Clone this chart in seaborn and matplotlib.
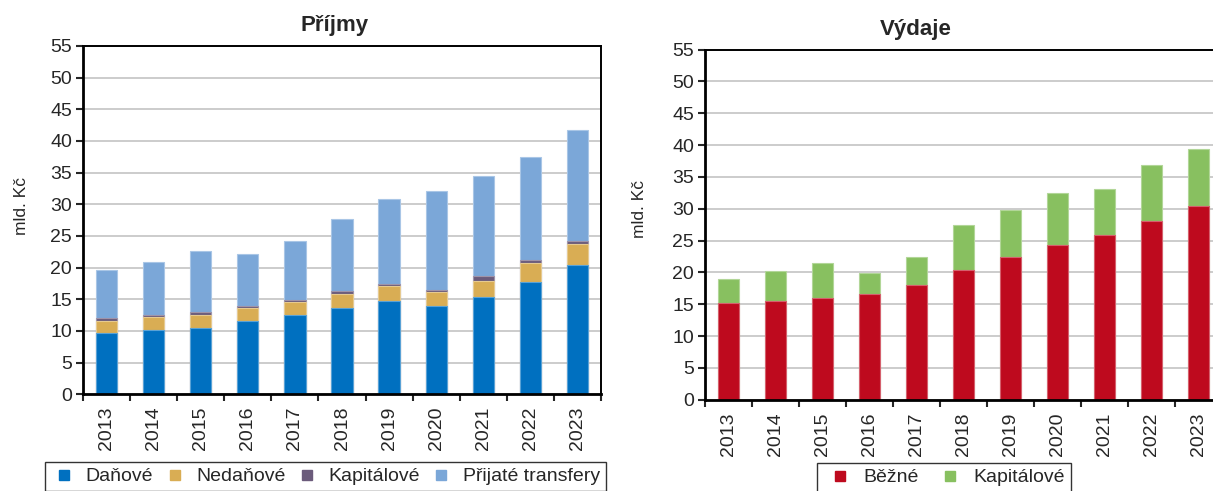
import matplotlib.pyplot as plt
import pandas as pd
import seaborn as sns
from matplotlib.lines import Line2D
from matplotlib.colors import to_rgb

years = [str(y) for y in range(2013, 2024)]

# Příjmy, mld. Kč
danove = [9.74, 10.16, 10.53, 11.63, 12.58, 13.68, 14.74, 13.95, 15.42, 17.79, 20.37]
nedanove = [1.89, 2.05, 2.05, 2.00, 2.00, 2.21, 2.36, 2.26, 2.53, 2.95, 3.42]
kapitalove_prijmy = [0.37, 0.32, 0.42, 0.32, 0.31, 0.37, 0.37, 0.32, 0.73, 0.52, 0.47]
prijate_transfery = [7.63, 8.31, 9.58, 8.15, 9.32, 11.42, 13.32, 15.57, 15.79, 16.27, 17.48]

# Výdaje, mld. Kč
bezne = [15.18, 15.50, 15.97, 16.65, 18.06, 20.42, 22.36, 24.35, 25.92, 28.06, 30.47]
kapitalove_vydaje = [3.82, 4.66, 5.50, 3.30, 4.40, 6.96, 7.43, 8.06, 7.17, 8.75, 8.95]

prijmy_labels = ['Daňové', 'Nedaňové', 'Kapitálové', 'Přijaté transfery']
prijmy_colors = ['#0070c0', '#d9ad54', '#6b5b7b', '#7ba7d8']
vydaje_labels = ['Běžné', 'Kapitálové']
vydaje_colors = ['#be0a1e', '#88c060']

sns.set_style('white')
plt.rcParams['font.family'] = ['Liberation Sans', 'DejaVu Sans']


def lighten(col, amount=0.35):
    r, g, b = to_rgb(col)
    return (r + (1 - r) * amount, g + (1 - g) * amount, b + (1 - b) * amount)


def draw_stacked(ax, parts, colors):
    #stack by drawing cumulative totals, tallest first
    cums = []
    total = [0] * len(years)
    for p in parts:
        total = [a + b for a, b in zip(total, p)]
        cums.append(total)
    for cum, col in reversed(list(zip(cums, colors))):
        df = pd.DataFrame({'rok': years, 'hodnota': cum})
        sns.barplot(df, x='rok', y='hodnota', color=col, saturation=1, width=0.45,
                    edgecolor=lighten(col), linewidth=0.8, errorbar=None, ax=ax)


def style_axis(ax, label_x, label_y):
    ax.set_ylim(0, 55)
    ax.set_xlim(-0.5, len(years) - 0.5)
    ax.set_yticks(range(0, 56, 5))
    ax.yaxis.grid(True, color='#c8c8c8', lw=1.3)
    ax.set_axisbelow(True)
    for name, s in ax.spines.items():
        s.set_visible(True)
        s.set_color('black')
        s.set_linewidth(1.4)
    ax.spines['left'].set_linewidth(2)
    ax.spines['bottom'].set_linewidth(2)
    ax.set_xticks(range(len(years)))
    ax.set_xticklabels(years, rotation=90, fontsize=14)
    ax.set_xticks([i - 0.5 for i in range(len(years) + 1)], minor=True)
    ax.tick_params(axis='x', which='major', length=0, pad=9)
    ax.tick_params(axis='x', which='minor', length=5, width=1.5, direction='out', bottom=True)
    ax.tick_params(axis='y', length=5, width=1.5, direction='out', left=True, labelsize=14, pad=3)
    ax.set_xlabel('')
    ax.set_ylabel('mld. Kč', fontsize=12.5)
    ax.yaxis.set_label_coords(label_x, label_y)


def add_legend(fig, labels, colors, x, y, spacing, hlen=1.4, hpad=0.4):
    handles = [Line2D([], [], marker='s', linestyle='none', markersize=7.5,
                      markerfacecolor=c, markeredgecolor=c) for c in colors]
    leg = fig.legend(handles, labels, loc='upper left', bbox_to_anchor=(x, y),
                     ncol=len(labels), frameon=True, fancybox=False, fontsize=14,
                     handlelength=hlen, handletextpad=hpad, columnspacing=spacing,
                     borderpad=0.3, borderaxespad=0)
    leg.get_frame().set_edgecolor('black')
    leg.get_frame().set_linewidth(1.0)


W, H = 1213, 491
fig = plt.figure(figsize=(W / 100, H / 100), dpi=100)

ax1 = fig.add_axes([83 / W, (H - 394.3) / H, 518 / W, 348.3 / H])
draw_stacked(ax1, [danove, nedanove, kapitalove_prijmy, prijate_transfery], prijmy_colors)
style_axis(ax1, -0.104, 0.54)

ax2 = fig.add_axes([705 / W, (H - 399.7) / H, 517 / W, 350.2 / H])
draw_stacked(ax2, [bezne, kapitalove_vydaje], vydaje_colors)
style_axis(ax2, -0.112, 0.545)

fig.text(335 / W, 1 - 25 / H, 'Příjmy', ha='center', va='center', fontsize=16, fontweight='bold')
fig.text(916 / W, 1 - 30 / H, 'Výdaje', ha='center', va='center', fontsize=16, fontweight='bold')

add_legend(fig, prijmy_labels, prijmy_colors, 45 / W, 1 - 462 / H, 0.4)
add_legend(fig, vydaje_labels, vydaje_colors, 817 / W, 1 - 463 / H, 0.7, hlen=1.8, hpad=0.3)

plt.savefig('out.png', dpi=100)
plt.close()
